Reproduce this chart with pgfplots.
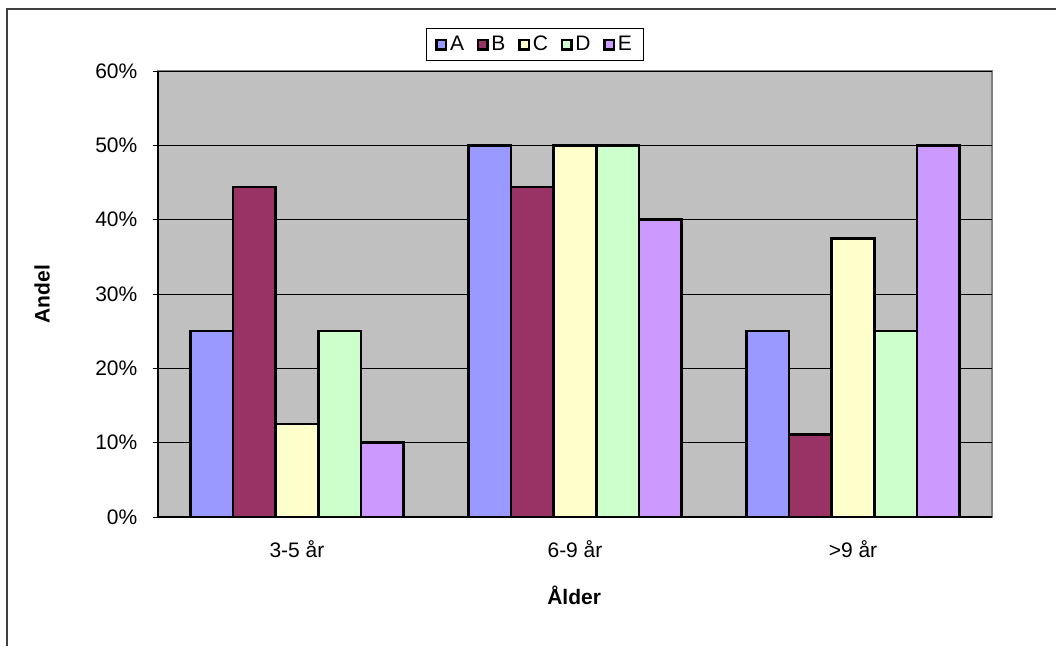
\documentclass[border=0pt]{standalone}
\usepackage{pgfplots}
\pgfplotsset{compat=1.18}
\usepackage{fontspec}
\setmainfont{Liberation Sans}
\definecolor{cA}{HTML}{9999FF}
\definecolor{cB}{HTML}{993366}
\definecolor{cC}{HTML}{FFFFCC}
\definecolor{cD}{HTML}{CCFFCC}
\definecolor{cE}{HTML}{CC99FF}
\definecolor{plotbg}{HTML}{C0C0C0}
\definecolor{plotedge}{HTML}{808080}
\definecolor{frame}{HTML}{404040}
\begin{document}
\begin{tikzpicture}
\useasboundingbox (0,0) rectangle (792pt,484.5pt);
\draw[frame, line width=1pt] (5.25pt,0pt) -- (5.25pt,477.75pt) -- (792pt,477.75pt);
\begin{axis}[
  at={(118.5pt,96.75pt)}, anchor=south west,
  scale only axis, width=625.5pt, height=334.5pt,
  ybar=0pt, bar width=0.1536,
  xmin=0.5, xmax=3.5, ymin=0, ymax=60,
  axis lines=left, axis line style={-, black, line width=0.8pt},
  axis background/.style={fill=plotbg, draw=plotedge, line width=1.6pt},
  ytick={0,10,20,30,40,50,60},
  yticklabels={0\%,10\%,20\%,30\%,40\%,50\%,60\%},
  ymajorgrids, major grid style={black, line width=0.6pt},
  xtick={1,2,3}, xticklabels={3-5 år,6-9 år,>9 år},
  x tick style={draw=none},
  extra x ticks={0.5,1.5,2.5,3.5}, extra x tick labels={},
  extra x tick style={grid=none, tick style={draw=black, line width=0.6pt}},
  y tick style={black, line width=0.6pt},
  tick align=outside, major tick length=4pt,
  ticklabel style={font=\fontsize{15.75}{18}\selectfont},
  yticklabel style={xshift=-8pt},
  xticklabel style={yshift=-10pt},
  xlabel={\bfseries Ålder}, ylabel={\bfseries Andel},
  label style={font=\fontsize{15.75}{18}\selectfont},
  xlabel style={at={(axis description cs:0.499,-0.175)}, anchor=center},
  ylabel style={at={(axis description cs:-0.139,0.5)}, anchor=center},
  legend columns=5,
  legend image code/.code={\draw[#1, draw=black, line width=1.8pt] (0pt,-3.6pt) rectangle (7.2pt,3.6pt);},
  legend style={at={(0.452,1.0594)}, anchor=center, draw=black, line width=0.6pt,
    font=\fontsize{15.75}{18}\selectfont, inner xsep=7pt, inner ysep=4pt,
    /tikz/every even column/.append style={column sep=7.5pt}},
]
\addplot[fill=cA, draw=black, line width=1.9pt] coordinates {(1,25) (2,50) (3,25)};
\addplot[fill=cB, draw=black, line width=1.9pt] coordinates {(1,44.4) (2,44.4) (3,11.1)};
\addplot[fill=cC, draw=black, line width=1.9pt] coordinates {(1,12.5) (2,50) (3,37.5)};
\addplot[fill=cD, draw=black, line width=1.9pt] coordinates {(1,25) (2,50) (3,25)};
\addplot[fill=cE, draw=black, line width=1.9pt] coordinates {(1,10) (2,40) (3,50)};
\legend{A,B,C,D,E}
\end{axis}
\end{tikzpicture}
\end{document}
